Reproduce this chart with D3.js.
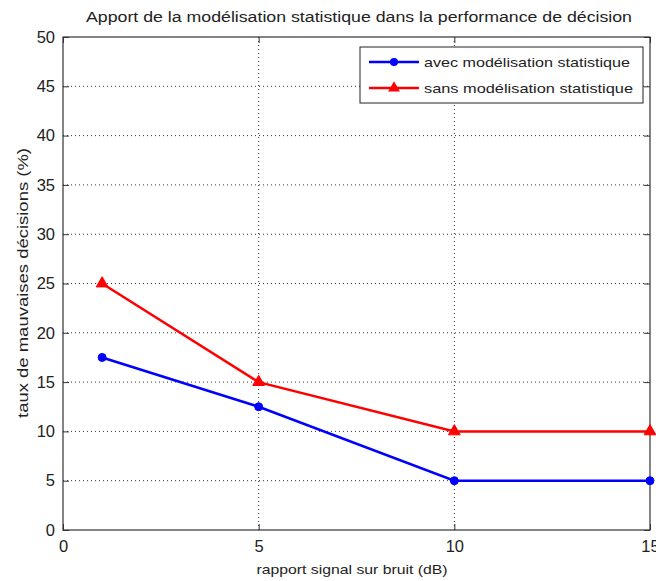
<!DOCTYPE html>
<html><head><meta charset="utf-8">
<script src="https://cdn.jsdelivr.net/npm/d3@7"></script>
<style>body{margin:0;background:#fff}svg{display:block}text{font-family:"Liberation Sans",Arial,sans-serif;fill:#222}</style>
</head><body><svg id="c" width="656" height="581"></svg>
<script>
const snr = [1, 5, 10, 15];
const avec = [17.5, 12.5, 5, 5];
const sans = [25, 15, 10, 10];
const xTicks = [0, 5, 10, 15];
const yTicks = [0, 5, 10, 15, 20, 25, 30, 35, 40, 45, 50];
const seriesNames = ["avec modélisation statistique", "sans modélisation statistique"];
const title = "Apport de la modélisation statistique dans la performance de décision";
const xLabel = "rapport signal sur bruit (dB)";
const yLabel = "taux de mauvaises décisions (%)";

const svg = d3.select("#c");
const L = 63, R = 650, T = 37, B = 530;
const x = d3.scaleLinear().domain([0, 15]).range([L, R]);
const y = d3.scaleLinear().domain([0, 50]).range([B, T]);
const tickFont = "'Liberation Sans Narrow','Liberation Sans',Arial";

// grid
const g = svg.append("g");
g.selectAll(".gx").data(xTicks.slice(1, -1)).join("line")
  .attr("x1", d => x(d)).attr("x2", d => x(d)).attr("y1", T).attr("y2", B)
  .attr("stroke", "#333").attr("stroke-width", 1).attr("stroke-dasharray", "1,3");
g.selectAll(".gy").data(yTicks.slice(1, -1)).join("line")
  .attr("y1", d => y(d)).attr("y2", d => y(d)).attr("x1", L).attr("x2", R)
  .attr("stroke", "#333").attr("stroke-width", 1).attr("stroke-dasharray", "1,3");

// axes with inner ticks
const ax = svg.append("g");
ax.append("g").attr("transform", `translate(0,${B})`).call(d3.axisBottom(x).tickValues(xTicks).tickSize(-6).tickPadding(10))
  .call(s => { s.select(".domain").remove(); s.selectAll("text").attr("font-size", 16.5).style("font-family", tickFont).style("fill", "#222"); s.selectAll("line").attr("stroke", "#333"); });
ax.append("g").attr("transform", `translate(0,${T})`).call(d3.axisTop(x).tickValues(xTicks).tickSize(-6).tickFormat(""))
  .call(s => { s.select(".domain").remove(); s.selectAll("line").attr("stroke", "#333"); });
ax.append("g").attr("transform", `translate(${L},0)`).call(d3.axisLeft(y).tickValues(yTicks).tickSize(-6).tickPadding(8))
  .call(s => { s.select(".domain").remove(); s.selectAll("text").attr("font-size", 16.5).style("font-family", tickFont).style("fill", "#222"); s.selectAll("line").attr("stroke", "#333"); });
ax.append("g").attr("transform", `translate(${R},0)`).call(d3.axisRight(y).tickValues(yTicks).tickSize(-6).tickFormat(""))
  .call(s => { s.select(".domain").remove(); s.selectAll("line").attr("stroke", "#333"); });
svg.append("rect").attr("x", L).attr("y", T).attr("width", R - L).attr("height", B - T)
  .attr("fill", "none").attr("stroke", "#333").attr("stroke-width", 1.2);

// series
const line = d3.line().x((d, i) => x(snr[i])).y(d => y(d));
const colors = ["#0000ff", "#ff0000"];
[avec, sans].forEach((vals, k) => {
  svg.append("path").datum(vals).attr("d", line).attr("fill", "none").attr("stroke", colors[k]).attr("stroke-width", 2.5);
  const m = svg.append("g").selectAll("path").data(vals).join("path")
    .attr("transform", (d, i) => `translate(${x(snr[i])},${y(d)})`)
    .attr("fill", colors[k]).attr("stroke", colors[k]);
  if (k === 0) m.attr("d", d3.symbol(d3.symbolCircle, 50));
  else m.attr("d", d3.symbol(d3.symbolTriangle, 60));
});

// legend
const lg = svg.append("g");
lg.append("rect").attr("x", 360).attr("y", 47).attr("width", 283).attr("height", 56).attr("fill", "#fff").attr("stroke", "#222").attr("stroke-width", 1);
const legW = [206, 209];
seriesNames.forEach((n, k) => {
  const yy = 62 + k * 26;
  lg.append("line").attr("x1", 369).attr("x2", 419).attr("y1", yy).attr("y2", yy).attr("stroke", colors[k]).attr("stroke-width", 2.5);
  lg.append("path").attr("transform", `translate(394,${yy})`).attr("d", d3.symbol(k === 0 ? d3.symbolCircle : d3.symbolTriangle, k === 0 ? 50 : 60)).attr("fill", colors[k]);
  lg.append("text").attr("x", 424).attr("y", yy + 5).attr("font-size", 13.5).attr("textLength", legW[k]).attr("lengthAdjust", "spacingAndGlyphs").text(n);
});

// labels
svg.append("text").attr("x", 359).attr("y", 22).attr("text-anchor", "middle").attr("font-size", 14).attr("textLength", 546).attr("lengthAdjust", "spacingAndGlyphs").text(title);
svg.append("text").attr("x", 352).attr("y", 574).attr("text-anchor", "middle").attr("font-size", 13.5).attr("textLength", 191).attr("lengthAdjust", "spacingAndGlyphs").text(xLabel);
svg.append("text").attr("transform", `translate(28,283) rotate(-90)`).attr("text-anchor", "middle").attr("font-size", 14).attr("textLength", 270).attr("lengthAdjust", "spacingAndGlyphs").text(yLabel);
</script></body></html>
